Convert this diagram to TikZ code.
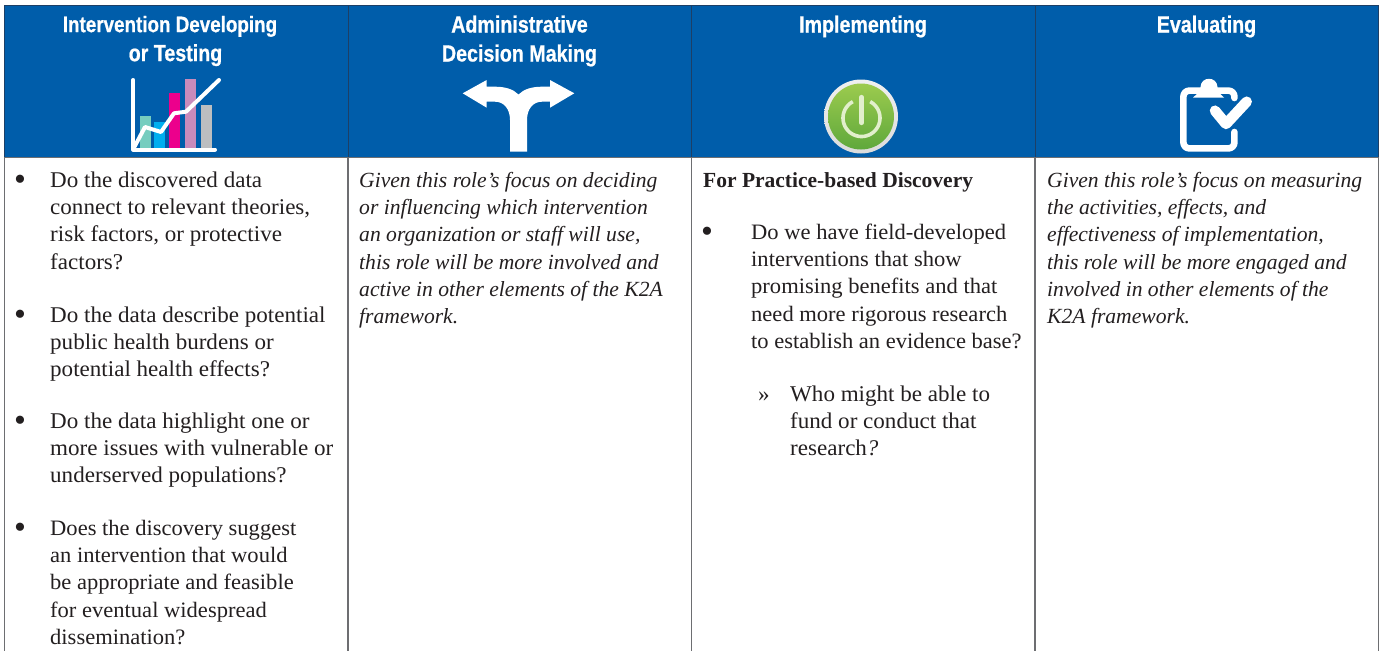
\documentclass[tikz,border=0pt]{standalone}
\usepackage{fontspec}
\setmainfont{Liberation Serif}
\newfontfamily\bodyfont[FakeStretch=1.025]{Liberation Serif}
\newfontfamily\headfont[FakeStretch=0.84,BoldFeatures={FakeBold=0.7}]{Liberation Sans}
\definecolor{headblue}{HTML}{005DAA}
\definecolor{rulegray}{HTML}{6D6E71}
\definecolor{rulenavy}{HTML}{1D3F66}
\definecolor{inkblack}{HTML}{231F20}
\definecolor{barteal}{HTML}{76CDBF}
\definecolor{barblue}{HTML}{00AEEF}
\definecolor{barpink}{HTML}{EC008C}
\definecolor{barpurple}{HTML}{C98BBB}
\definecolor{bargray}{HTML}{BCBEC0}
\definecolor{btnlight}{HTML}{9CCB4E}
\definecolor{btndark}{HTML}{5FA83C}
\definecolor{btnring}{HTML}{E2EFCC}
\tikzset{
  x=1pt,y=-1pt,
  headtext/.style={font=\headfont\bfseries\fontsize{23.4}{29}\selectfont,text=white,align=center,inner sep=0pt,anchor=center},
  bodytext/.style={font=\bodyfont\fontsize{22.5}{27.3}\selectfont,text=inkblack,align=left,inner sep=0pt,anchor=north west},
  bodytight/.style={bodytext,font=\bodyfont\fontsize{22}{27.3}\selectfont},
  bodyital/.style={bodytext,font=\rmfamily\itshape\fontsize{21.6}{27.3}\selectfont},
  bodybold/.style={bodytext,font=\rmfamily\bfseries\fontsize{21.5}{27.3}\selectfont},
  bullettext/.style={bodytext,font=\rmfamily\fontsize{34}{27.3}\selectfont},
  rulev/.style={draw=rulegray,line width=1.2pt},
  iconline/.style={draw=white,line width=4pt,line cap=round,line join=round},
}
\newcommand{\bigbullet}{\strut\raisebox{-3.2pt}{•}}
\begin{document}
\begin{tikzpicture}
\useasboundingbox (0,0) rectangle (1382,651);
\fill[white] (0,0) rectangle (1382,651);
\fill[headblue] (4,5.5) rectangle (1378.5,157);
\foreach \x in {4.3,348,691.5,1035,1378.5}{
  \draw[rulev] (\x,157) -- (\x,651);
  \draw[rulenavy,line width=1pt] (\x,5.5) -- (\x,157);
}
\draw[rulegray,line width=1.2pt] (4,157.5) -- (1378.5,157.5);
\draw[rulenavy,line width=.8pt] (4,5.5) -- (1378.5,5.5);
\node[headtext] (h1) at (170,41) {{\fontsize{22.4}{29}\selectfont Intervention Developing}\\\hspace*{11pt}or Testing};
\node[headtext] (h2) at (519.5,41) {Administrative\\Decision Making};
\node[headtext] (h3) at (863,26.5) {Implementing};
\node[headtext] (h4) at (1206.5,26.5) {Evaluating};
% chart icon
\fill[barteal] (140,116) rectangle (151,147.5);
\fill[barblue] (154,122) rectangle (165,147.5);
\fill[barpink] (169,93) rectangle (180,147.5);
\fill[barpurple] (185,79) rectangle (196,147.5);
\fill[bargray] (201,105) rectangle (212,147.5);
\draw[iconline] (133.3,80) -- (133.3,149.5) -- (215,149.5);
\draw[iconline] (133.3,149) -- (145,127) -- (161,132) -- (174,113.3) -- (186,111.7) -- (219,80);
% fork arrow icon
\fill[white] (462.7,93.3) -- (486.7,80) -- (486.7,86.7) -- (495,86.7)
  .. controls (505,86.7) and (513,89) .. (518.5,94.5)
  .. controls (524,89) and (532,86.7) .. (542,86.7)
  -- (550,86.7) -- (550,80) -- (574.3,93.3) -- (550,107.7) -- (550,101.7) -- (542,101.7)
  .. controls (533,101.7) and (527,109) .. (527,120)
  -- (527,151.7) -- (510,151.7) -- (510,120)
  .. controls (510,109) and (504,101.7) .. (495,101.7)
  -- (486.7,101.7) -- (486.7,107.7) -- cycle;
% power button icon
\shade[top color=white!88!gray,bottom color=white!72!gray] (861,116.5) circle[radius=37];
\shade[top color=btnlight,bottom color=btndark] (861,116.5) circle[radius=33];
\draw[btnring,line width=3.6pt] plot[smooth,samples=50,domain=-62:242] ({861.5+18.5*cos(\x)},{118+18.5*sin(\x)});
\draw[btnring,line width=4.2pt,line cap=round] (861.5,97) -- (861.5,123);
% clipboard icon
\draw[white,line width=6.6pt,line cap=round,line join=round,rounded corners=6pt]
  (1234.4,98) -- (1234.4,90.6) -- (1183.4,90.6) -- (1183.4,148.4) -- (1234.4,148.4) -- (1234.4,132);
\fill[white] (1193,97.5) .. controls (1197,94) and (1200,92) .. (1200.5,87)
  .. controls (1201,76) and (1217,76) .. (1217.5,87)
  .. controls (1218,92) and (1220,94) .. (1224,97.5) -- cycle;
\draw[white,line width=10.5pt,line cap=round,line join=round] (1215,110.7) -- (1226,124) -- (1246.7,101.7);
% column 1
\node[bullettext] (b1) at (14,167.9) {\bigbullet};
\node[bodytext] (t1) at (50,167.9) {\strut Do the discovered data\\connect to relevant theories,\\risk factors, or protective\\factors?};
\node[bullettext] (b2) at (14,302.9) {\bigbullet};
\node[bodytext] (t2) at (50,302.9) {\strut Do the data describe potential\\public health burdens or\\potential health effects?};
\node[bullettext] (b3) at (14,408.9) {\bigbullet};
\node[bodytext] (t3) at (50,408.9) {\strut Do the data highlight one or\\more issues with vulnerable or\\underserved populations?};
\node[bullettext] (b4) at (14,515.9) {\bigbullet};
\node[bodytight] (t4) at (50,515.9) {\strut Does the discovery suggest\\an intervention that would\\be appropriate and feasible\\for eventual widespread\\dissemination?};
% column 2
\node[bodyital] (t5) at (359,167.9) {\strut Given this role’s focus on deciding\\or influencing which intervention\\an organization or staff will use,\\this role will be more involved and\\active in other elements of the K2A\\framework.};
% column 3
\node[bodybold] (t6) at (703,167.9) {\strut For Practice-based Discovery};
\node[bullettext] (b5) at (701,219.9) {\bigbullet};
\node[bodytight] (t7) at (751,219.9) {\strut Do we have field-developed\\interventions that show\\promising benefits and that\\need more rigorous research\\to establish an evidence base?};
\node[bodytext] (b6) at (758,381.9) {\strut »};
\node[bodytext] (t8) at (790,381.9) {\strut Who might be able to\\fund or conduct that\\research{\rmfamily\itshape ?}};
% column 4
\node[bodyital] (t9) at (1047,167.9) {\strut Given this role’s focus on measuring\\the activities, effects, and\\effectiveness of implementation,\\this role will be more engaged and\\involved in other elements of the\\K2A framework.};
\end{tikzpicture}
\end{document}
